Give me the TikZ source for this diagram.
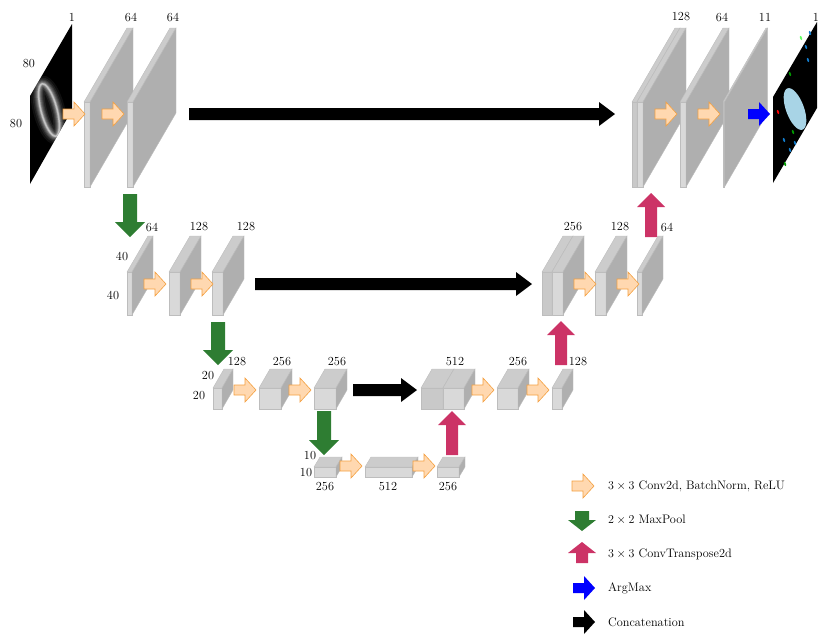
\documentclass[tikz,border=0pt]{standalone}
\usetikzlibrary{calc}
\definecolor{ffront}{HTML}{D9D9D9}
\definecolor{fside}{HTML}{AFAFAF}
\definecolor{ftop}{HTML}{CCCCCC}
\definecolor{fdark}{HTML}{C9C9C9}
\definecolor{edgec}{HTML}{BDBDBD}
\definecolor{orfill}{HTML}{FFD8B0}
\definecolor{ordraw}{HTML}{F4A040}
\definecolor{grn}{HTML}{2E7D32}
\definecolor{rd}{HTML}{CC3366}
\definecolor{seg}{HTML}{A8D4E6}
\newcommand\cube[7]{%
 \fill[#7,draw=edgec,line width=0.4pt] (#1,#2) rectangle ({#1+#3},{#2-#4});
 \fill[ftop,draw=edgec,line width=0.4pt] (#1,{#2-#4}) -- ({#1+#5},{#2-#4-#6}) -- ({#1+#3+#5},{#2-#4-#6}) -- ({#1+#3},{#2-#4}) -- cycle;
 \fill[fside,draw=edgec,line width=0.4pt] ({#1+#3},{#2-#4}) -- ({#1+#3+#5},{#2-#4-#6}) -- ({#1+#3+#5},{#2-#6}) -- ({#1+#3},#2) -- cycle;}
% horizontal arrow: x1 y x2 colour shafthalf headhalf headlen
\newcommand\RA[7]{%
 \fill[#4] (#1,{#2-#5}) -- ({#3-#7},{#2-#5}) -- ({#3-#7},{#2-#6}) -- (#3,#2) -- ({#3-#7},{#2+#6}) -- ({#3-#7},{#2+#5}) -- (#1,{#2+#5}) -- cycle;}
% vertical arrow: x y1 y2 colour shafthalf headhalf headlen (points toward y2)
\newcommand\VA[7]{%
 \fill[#4] ({#1-#5},#2) -- ({#1-#5},{#3-(#7)*sign(#3-#2)}) -- ({#1-#6},{#3-(#7)*sign(#3-#2)}) -- (#1,#3) -- ({#1+#6},{#3-(#7)*sign(#3-#2)}) -- ({#1+#5},{#3-(#7)*sign(#3-#2)}) -- ({#1+#5},#2) -- cycle;}
\tikzset{lbl/.style={inner sep=0pt,font=\fontsize{12.3}{14}\selectfont}}
\newcommand\OA[2]{\filldraw[fill=orfill,draw=ordraw,line width=0.6pt] (#1,{#2-5}) -- ({#1+11},{#2-5}) -- ({#1+11},{#2-12}) -- ({#1+22},#2) -- ({#1+11},{#2+12}) -- ({#1+11},{#2+5}) -- (#1,{#2+5}) -- cycle;}
\begin{document}
\begin{tikzpicture}[x=1pt,y=-1pt]
\useasboundingbox (0,0) rectangle (830,641);
% input image
\fill[black] (30,184) -- (30,96) -- (72,24) -- (72,110) -- cycle;
\begin{scope}
\clip (30,184) -- (30,96) -- (72,24) -- (72,110) -- cycle;
\foreach \w/\o in {16/0.06,12/0.08,9/0.1,7/0.12,5/0.16,3/0.25,1.5/0.45}
  \draw[white,opacity=\o,line width=\w pt] (49,110) ellipse [x radius=8,y radius=27,rotate=15];
\end{scope}
\node[lbl] (in1) at (72,17) {1};
\node[lbl] (in80a) at (29,64) {80};
\node[lbl] (in80b) at (16,124) {80};
% level 1 left
\cube{84}{187}{6}{85}{43}{74}{ffront}
\cube{127}{187}{6}{85}{43}{74}{ffront}
\node[lbl] (l1a) at (131,17) {64};
\node[lbl] (l1b) at (173,17) {64};
\OA{63}{114}\OA{102}{114}
\RA{189}{114}{615}{black}{6}{12}{16}
% level 1 right
\cube{632}{187}{5}{85}{43}{74}{fdark}
\cube{637}{187}{6}{85}{43}{74}{ffront}
\cube{680}{187}{6}{85}{43}{74}{ffront}
\cube{723}{187}{1.5}{85}{43}{74}{ffront}
\node[lbl] (r1a) at (681,17) {128};
\node[lbl] (r1b) at (722,17) {64};
\node[lbl] (r1c) at (765,17) {11};
\OA{655}{114}\OA{698}{114}
\RA{748}{114}{770}{blue}{5}{12}{11}
% output image
\fill[black] (773,183) -- (773,97) -- (817,22) -- (817,108) -- cycle;
\fill[seg] (795,109) ellipse [x radius=9,y radius=22,rotate=20];
\foreach \px/\py/\c in {778/112/red,790/74/green!60!black,806/47/cyan!60!blue,801/38/green!60,793/132/green!60!black,784/140/cyan!60!blue,790/150/cyan!60!blue,785/164/green!60!black,795/143/cyan!60!blue,808/60/cyan!60!blue,810/33/cyan!60!blue}
  \fill[\c] (\px,\py) ellipse [x radius=1,y radius=2.2,rotate=20];
\node[lbl] (out1) at (816,17) {1};
% level 2
\VA{130}{194}{237}{grn}{7}{15}{15}
\cube{127}{315}{5}{43}{21}{36}{ffront}
\cube{169}{315}{11}{43}{21}{36}{ffront}
\cube{212}{315}{11}{43}{21}{36}{ffront}
\node[lbl] (l2a) at (152,227) {64};
\node[lbl] (l2b) at (199,227) {128};
\node[lbl] (l2c) at (246,227) {128};
\node[lbl] (l2d) at (122,256) {40};
\node[lbl] (l2e) at (113,295) {40};
\OA{144}{284}\OA{191}{284}
\RA{255}{284}{532}{black}{6}{12}{16}
\cube{542}{315}{10}{43}{21}{36}{fdark}
\cube{552}{315}{11}{43}{21}{36}{ffront}
\cube{595}{315}{11}{43}{21}{36}{ffront}
\cube{637}{315}{5}{43}{21}{36}{ffront}
\node[lbl] (r2a) at (573,227) {256};
\node[lbl] (r2b) at (620,227) {128};
\node[lbl] (r2c) at (667,227) {64};
\OA{574}{284}\OA{617}{284}
\VA{651}{237}{193}{rd}{6}{14}{14}
% level 3
\VA{218}{322}{365}{grn}{7}{15}{15}
\cube{213}{409}{9}{21}{11}{19}{ffront}
\cube{259}{409}{22}{21}{11}{19}{ffront}
\cube{314}{409}{22}{21}{11}{19}{ffront}
\node[lbl] (l3a) at (237,362) {128};
\node[lbl] (l3b) at (282,362) {256};
\node[lbl] (l3c) at (337,362) {256};
\node[lbl] (l3d) at (208,376) {20};
\node[lbl] (l3e) at (199,396) {20};
\OA{234}{390}\OA{289}{390}
\RA{353}{390}{417}{black}{6}{12}{16}
\cube{421}{409}{22}{21}{11}{19}{fdark}
\cube{443}{409}{21}{21}{11}{19}{ffront}
\cube{497}{409}{21}{21}{11}{19}{ffront}
\cube{552}{409}{10}{21}{11}{19}{ffront}
\node[lbl] (r3a) at (455,362) {512};
\node[lbl] (r3b) at (518,362) {256};
\node[lbl] (r3c) at (578,362) {128};
\OA{472}{390}\OA{527}{390}
\VA{561}{365}{321}{rd}{6}{14}{14}
% level 4
\VA{324}{411}{455}{grn}{7}{15}{15}
\cube{314}{477}{22}{10}{6}{10}{ffront}
\cube{365}{477}{47}{10}{6}{10}{ffront}
\cube{437}{477}{22}{10}{6}{10}{ffront}
\node[lbl] (b4a) at (325,487) {256};
\node[lbl] (b4b) at (388,487) {512};
\node[lbl] (b4c) at (448,487) {256};
\node[lbl] (b4d) at (310,456) {10};
\node[lbl] (b4e) at (306,473) {10};
\OA{340}{466}\OA{413}{466}
\VA{452}{455}{411}{rd}{6}{14}{14}
% legend
\OA{572}{486}
\node[lbl,anchor=west] (lg1) at (608,486) {$3\times 3$ Conv2d, BatchNorm, ReLU};
\VA{582}{511}{531}{grn}{7}{14}{11}
\node[lbl,anchor=west] (lg2) at (608,520) {$2\times 2$ MaxPool};
\VA{582}{563}{542}{rd}{6}{14}{11}
\node[lbl,anchor=west] (lg3) at (608,554) {$3\times 3$ ConvTranspose2d};
\RA{573}{588}{595}{blue}{5}{12}{11}
\node[lbl,anchor=west] (lg4) at (608,588) {ArgMax};
\RA{573}{622}{595}{black}{5}{12}{11}
\node[lbl,anchor=west] (lg5) at (608,622) {Concatenation};
\end{tikzpicture}
\end{document}
